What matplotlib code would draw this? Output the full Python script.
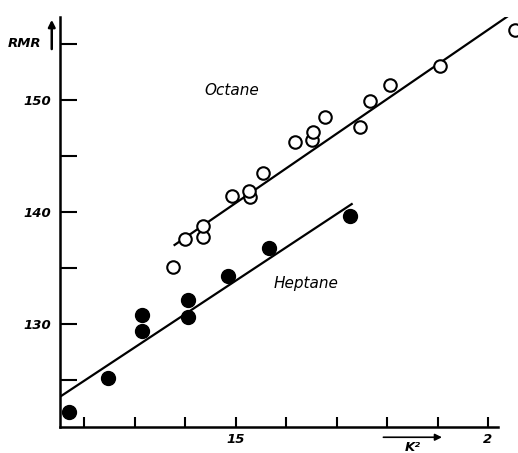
import matplotlib
matplotlib.use("Agg")
import matplotlib.pyplot as plt

# K^2 / RMR readings
heptane_k2 = [1.169, 1.248, 1.314, 1.314, 1.405, 1.405, 1.484, 1.567, 1.726]
heptane_rmr = [122.1, 125.2, 130.8, 129.4, 132.1, 130.6, 134.3, 136.8, 139.6]

octane_k2 = [1.375, 1.399, 1.435, 1.435, 1.492, 1.528, 1.526, 1.554, 1.617,
             1.651, 1.653, 1.677, 1.746, 1.766, 1.806, 1.905, 2.054]
octane_rmr = [135.1, 137.6, 137.8, 138.75, 141.4, 141.3, 141.9, 143.5, 146.2,
              146.4, 147.1, 148.5, 147.6, 149.9, 151.3, 153.0, 156.2]

# hand-drawn fit lines (end points)
heptane_fit_x = [1.152, 1.730]
heptane_fit_y = [123.5, 140.7]
octane_fit_x = [1.379, 2.050]
octane_fit_y = [137.05, 157.8]

xticks = [1.2, 1.3, 1.4, 1.5, 1.6, 1.7, 1.8, 1.9, 2.0]
xticklabels = ["", "", "", "15", "", "", "", "", "2"]
yticks = [125, 130, 135, 140, 145, 150, 155]
yticklabels = ["", "130", "", "140", "", "150", ""]

fig = plt.figure(figsize=(5.18, 4.53), dpi=100)
ax = fig.add_axes([60 / 518, 1 - 427 / 453, 458 / 518, 410 / 453])

ax.plot(heptane_fit_x, heptane_fit_y, color="black", lw=1.6)
ax.plot(octane_fit_x, octane_fit_y, color="black", lw=1.6)
ax.plot(heptane_k2, heptane_rmr, "o", ms=10, mfc="black", mec="black")
ax.plot(octane_k2, octane_rmr, "o", ms=9, mfc="white", mec="black", mew=1.5)

ax.set_xlim(1.152, 2.0595)
ax.set_ylim(120.8, 157.4)

for s in ["top", "right"]:
    ax.spines[s].set_visible(False)
ax.spines["left"].set_linewidth(1.8)
ax.spines["bottom"].set_linewidth(1.8)
ax.spines["bottom"].set_bounds(1.152, 2.02)

tfont = dict(fontsize=9.5, fontstyle="italic", fontweight="bold")
ax.set_xticks(xticks)
ax.set_xticklabels(xticklabels, **tfont)
ax.set_yticks(yticks)
ax.set_yticklabels(yticklabels, **tfont)
ax.tick_params(axis="x", direction="in", length=7, width=1.5, pad=4)
ax.tick_params(axis="y", direction="in", length=12, width=1.5, pad=6)

ax.text(1.492, 150.8, "Octane", fontsize=11, fontstyle="italic",
        ha="center", va="center")
ax.text(1.640, 133.6, "Heptane", fontsize=11, fontstyle="italic",
        ha="center", va="center")

# axis labels with arrows
ax.text(-0.04, 155, "RMR", transform=ax.get_yaxis_transform(),
        ha="right", va="center", **tfont)
ax.annotate("", xy=(-0.018, 1.0), xytext=(-0.018, 0.915),
            xycoords="axes fraction", annotation_clip=False,
            arrowprops=dict(arrowstyle="-|>", color="black", lw=1.8))
ax.annotate("", xy=(0.84, -0.025), xytext=(0.70, -0.025),
            xycoords="axes fraction", annotation_clip=False,
            arrowprops=dict(arrowstyle="-|>", color="black", lw=1.2))
ax.text(0.77, -0.05, "K²", transform=ax.transAxes, ha="center", va="center",
        **tfont)

fig.savefig("out.png", dpi=100)
